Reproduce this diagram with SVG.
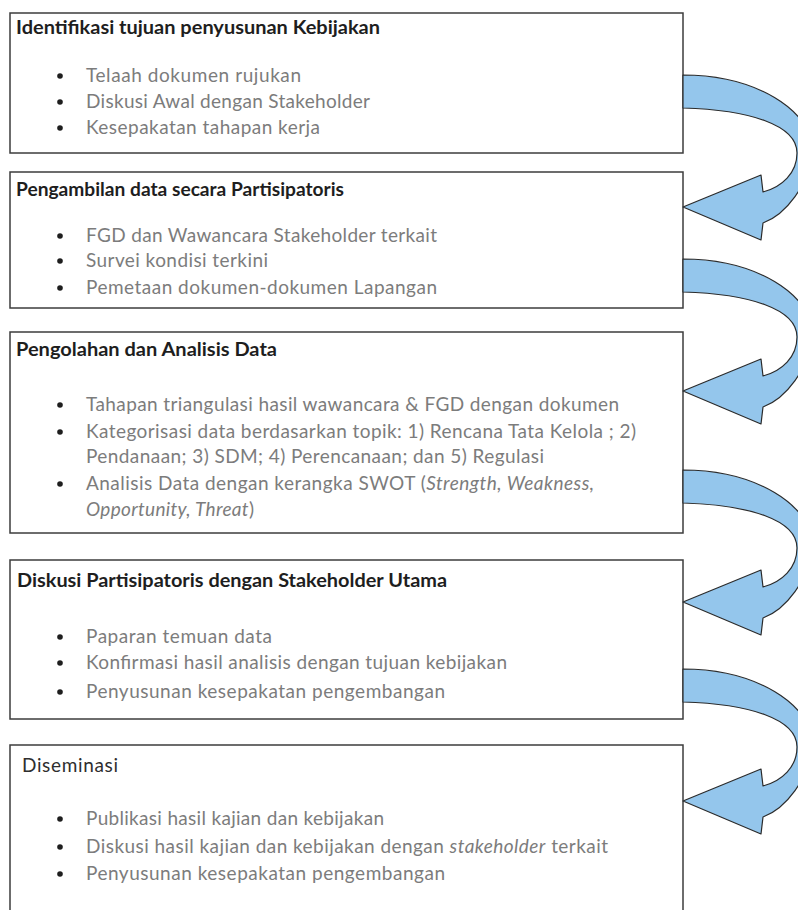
<svg xmlns="http://www.w3.org/2000/svg" width="798" height="910" viewBox="0 0 798 910">
<style>
.box{fill:#fff;stroke:#3c3c3c;stroke-width:1.5}
.t{font-family:Lato,"Open Sans","Liberation Sans",sans-serif;font-size:19px;font-weight:bold;fill:#1e1e1e}
.tr{font-family:Lato,"Open Sans","Liberation Sans",sans-serif;font-size:19px;fill:#2e2e2e}
.b{font-family:Lato,"Open Sans","Liberation Sans",sans-serif;font-size:19px;fill:#7c7c7c}
.i{font-style:italic}
.dot{fill:#1e1e1e}
.arr{fill:#94c6ec;stroke:#2b2b2b;stroke-width:1.2;stroke-linejoin:round}
</style>
<defs>
<path id="carrow" d="M683,0 C755,0 812,35 812,75 C810,110 785,140 763,148 L761,165 L683,132 L761,100 L763,117 C782,112 797,98 797,78 C797,50 750,35 683,33 Z"/>
</defs>
<rect width="798" height="910" fill="#fff"/>

<g id="node1">
<rect class="box" x="10" y="13" width="673" height="140"/>
<text class="t" x="16" y="34" textLength="364" lengthAdjust="spacingAndGlyphs">Identifikasi tujuan penyusunan Kebijakan</text>
<circle class="dot" cx="60" cy="76" r="2.8"/><text class="b" x="86" y="82" textLength="215">Telaah dokumen rujukan</text>
<circle class="dot" cx="60" cy="102" r="2.8"/><text class="b" x="86" y="108" textLength="284">Diskusi Awal dengan Stakeholder</text>
<circle class="dot" cx="60" cy="128" r="2.8"/><text class="b" x="86" y="134" textLength="234">Kesepakatan tahapan kerja</text>
</g>

<g id="node2">
<rect class="box" x="10" y="172" width="673" height="136"/>
<text class="t" x="16" y="196" textLength="328" lengthAdjust="spacingAndGlyphs">Pengambilan data secara Partisipatoris</text>
<circle class="dot" cx="60" cy="236" r="2.8"/><text class="b" x="86" y="242" textLength="351">FGD dan Wawancara Stakeholder terkait</text>
<circle class="dot" cx="60" cy="261" r="2.8"/><text class="b" x="86" y="267" textLength="182">Survei kondisi terkini</text>
<circle class="dot" cx="60" cy="288" r="2.8"/><text class="b" x="86" y="294" textLength="351">Pemetaan dokumen-dokumen Lapangan</text>
</g>

<g id="node3">
<rect class="box" x="10" y="332" width="673" height="201"/>
<text class="t" x="16" y="356" textLength="261" lengthAdjust="spacingAndGlyphs">Pengolahan dan Analisis Data</text>
<circle class="dot" cx="60" cy="405" r="2.8"/><text class="b" x="86" y="411" textLength="533">Tahapan triangulasi hasil wawancara &amp; FGD dengan dokumen</text>
<circle class="dot" cx="60" cy="432" r="2.8"/><text class="b" x="86" y="438" textLength="550">Kategorisasi data berdasarkan topik: 1) Rencana Tata Kelola ; 2)</text>
<text class="b" x="86" y="463" textLength="458">Pendanaan; 3) SDM; 4) Perencanaan; dan 5) Regulasi</text>
<circle class="dot" cx="60" cy="484" r="2.8"/><text class="b" x="86" y="490" textLength="508">Analisis Data dengan kerangka SWOT (<tspan class="i">Strength, Weakness,</tspan></text>
<text class="b" x="86" y="516" textLength="168"><tspan class="i">Opportunity, Threat</tspan>)</text>
</g>

<g id="node4">
<rect class="box" x="10" y="560" width="673" height="159"/>
<text class="t" x="17" y="587" textLength="430" lengthAdjust="spacingAndGlyphs">Diskusi Partisipatoris dengan Stakeholder Utama</text>
<circle class="dot" cx="60" cy="637" r="2.8"/><text class="b" x="86" y="643" textLength="186">Paparan temuan data</text>
<circle class="dot" cx="60" cy="663" r="2.8"/><text class="b" x="86" y="669" textLength="421">Konfirmasi hasil analisis dengan tujuan kebijakan</text>
<circle class="dot" cx="60" cy="692" r="2.8"/><text class="b" x="86" y="698" textLength="359">Penyusunan kesepakatan pengembangan</text>
</g>

<g id="node5">
<rect class="box" x="10" y="745" width="673" height="200"/>
<text class="tr" x="22" y="772" textLength="96">Diseminasi</text>
<circle class="dot" cx="60" cy="819" r="2.8"/><text class="b" x="86" y="825" textLength="298">Publikasi hasil kajian dan kebijakan</text>
<circle class="dot" cx="60" cy="847" r="2.8"/><text class="b" x="86" y="853" textLength="522">Diskusi hasil kajian dan kebijakan dengan <tspan class="i">stakeholder</tspan> terkait</text>
<circle class="dot" cx="60" cy="874" r="2.8"/><text class="b" x="86" y="880" textLength="359">Penyusunan kesepakatan pengembangan</text>
</g>

<g id="connectors">
<use href="#carrow" class="arr" transform="translate(0,75)"/>
<use href="#carrow" class="arr" transform="translate(0,259)"/>
<use href="#carrow" class="arr" transform="translate(0,470)"/>
<use href="#carrow" class="arr" transform="translate(0,669)"/>
</g>
</svg>
